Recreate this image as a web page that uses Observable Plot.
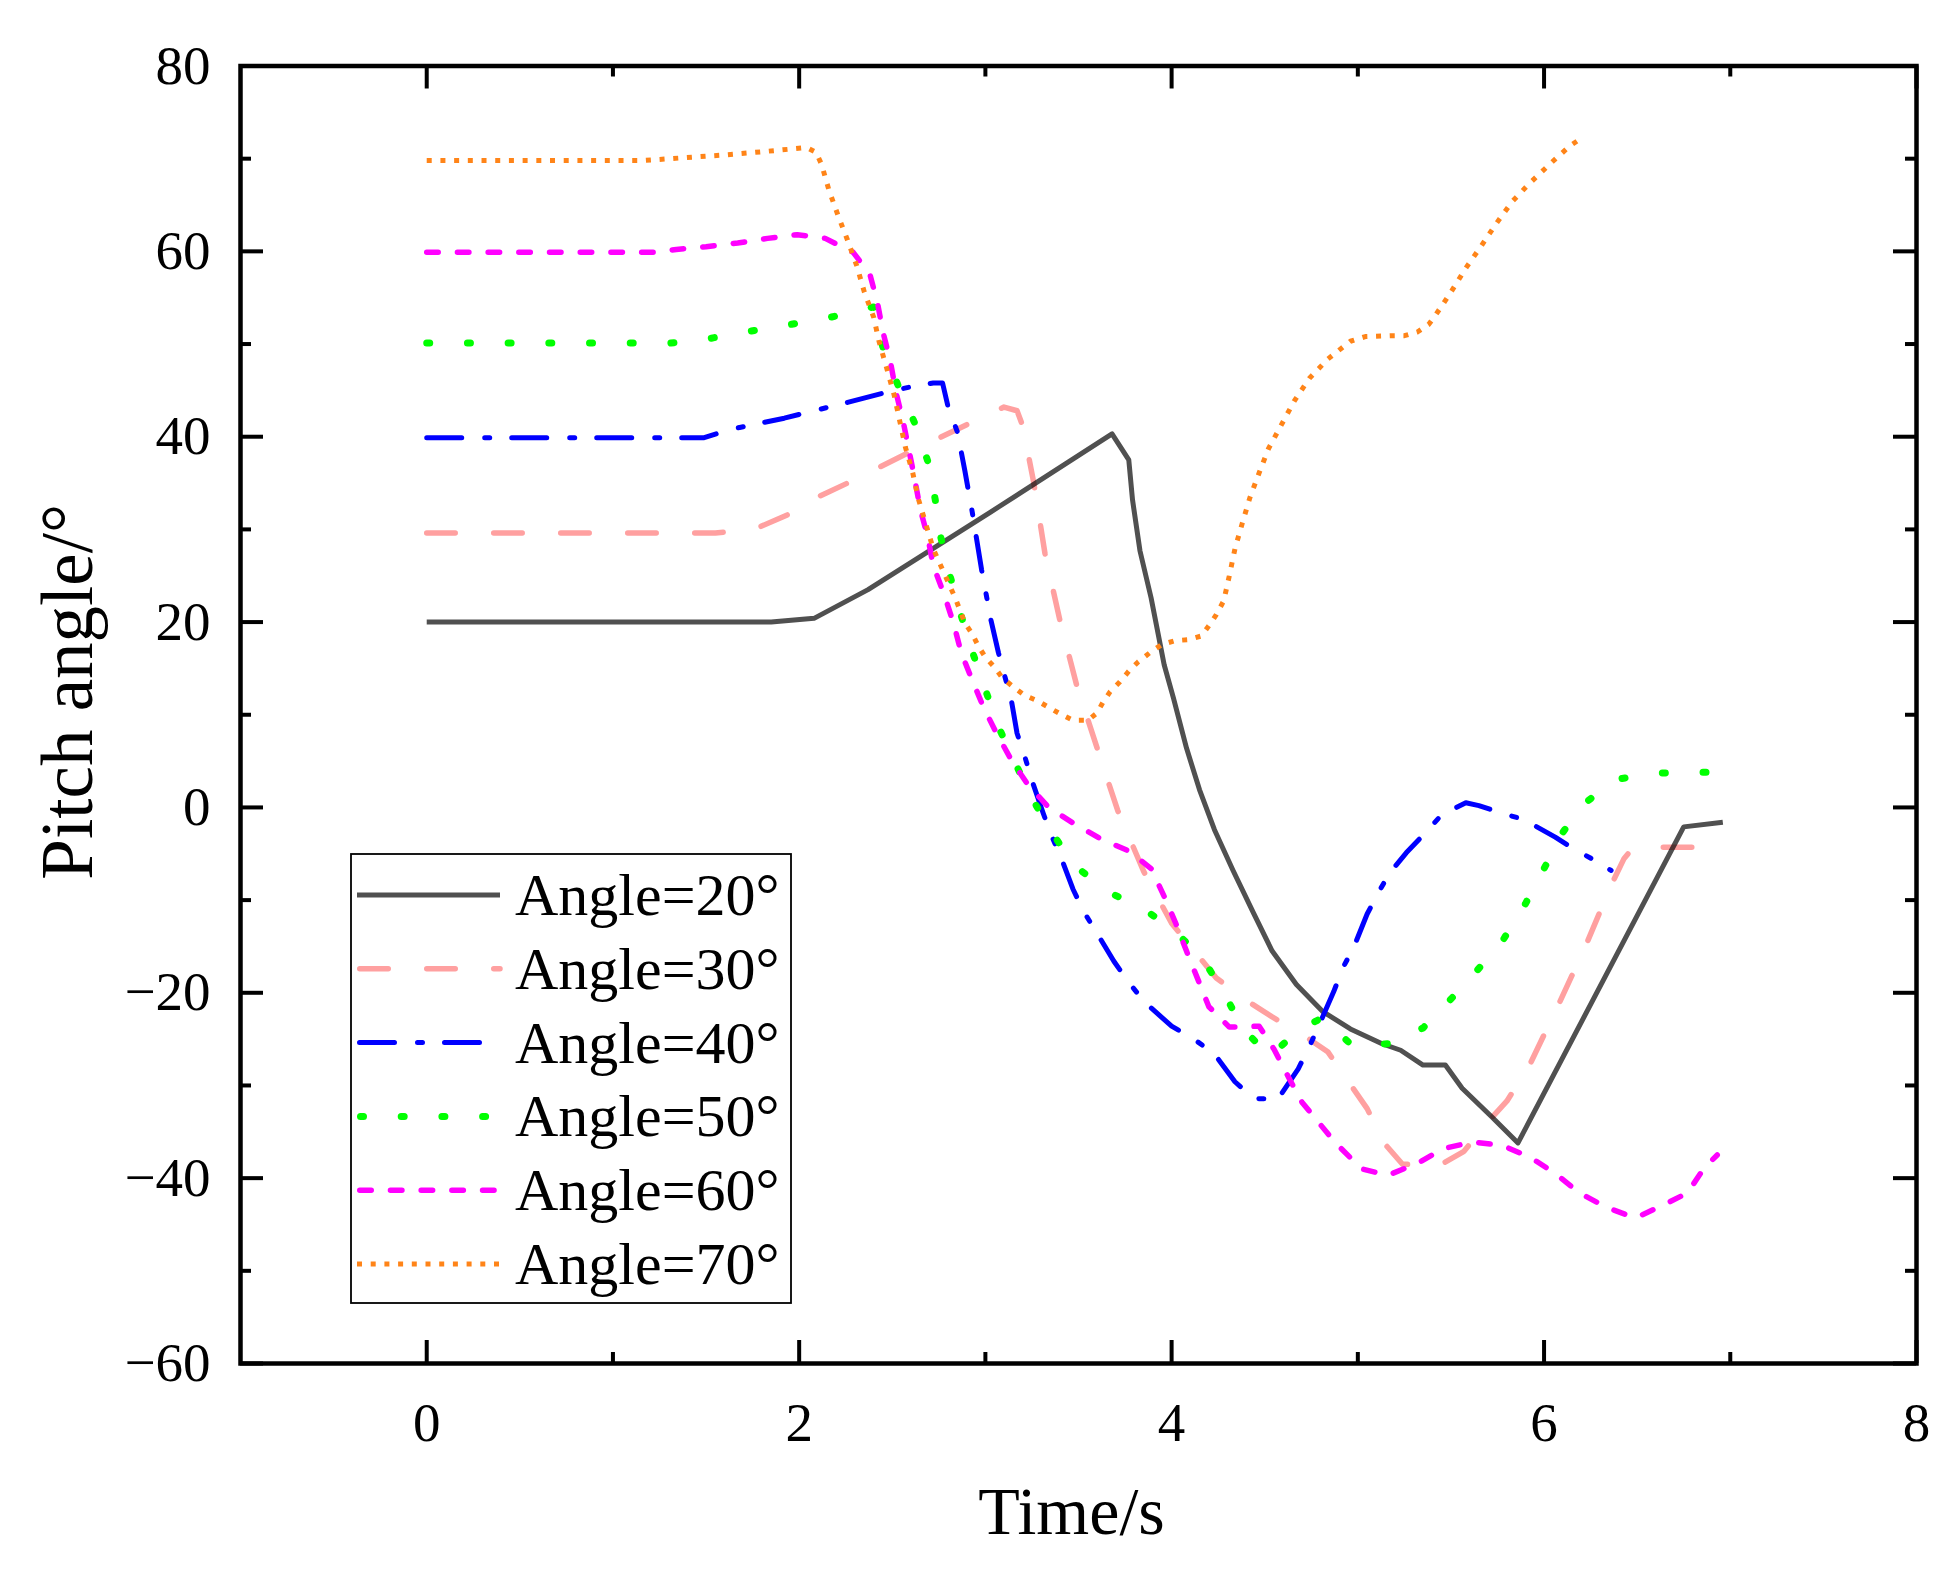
<!DOCTYPE html>
<html>
<head>
<meta charset="utf-8">
<script src="https://cdn.jsdelivr.net/npm/d3@7"></script>
<script src="https://cdn.jsdelivr.net/npm/@observablehq/plot@0.6"></script>
<style>
  html, body { margin: 0; padding: 0; background: #fff; }
  #wrap { position: relative; width: 1945px; height: 1571px; }
  #wrap svg { display: block; }
  #legend { position: absolute; left: 0; top: 0; pointer-events: none; }
</style>
</head>
<body>
<div id="wrap"></div>
<script>
// ---------- data ----------
const seriesNames = ["Angle=20°", "Angle=30°", "Angle=40°", "Angle=50°", "Angle=60°", "Angle=70°"];

const time20  = [0,1.85,2.08,2.37,3.03,3.68,3.77,3.79,3.83,3.89,3.96,4.01,4.08,4.15,4.23,4.33,4.44,4.54,4.67,4.81,4.96,5.13,5.23,5.35,5.47,5.56,5.72,5.86,6.75,6.96];
const pitch20 = [20,20,20.4,23.5,31.9,40.3,37.5,33.2,27.7,22.6,15.4,11.8,6.4,1.9,-2.4,-6.8,-11.4,-15.5,-19.1,-22.0,-23.9,-25.5,-26.2,-27.8,-27.8,-30.3,-33.4,-36.2,-2.1,-1.6];

const time30  = [0,1.55,1.65,1.78,1.94,2.1,2.26,2.58,2.91,3.1,3.17,3.2,3.26,3.32,3.4,3.49,3.6,3.71,3.85,4.0,4.24,4.4,4.54,4.71,4.84,4.95,5.05,5.14,5.24,5.44,5.57,5.7,5.8,5.92,6.07,6.22,6.36,6.43,6.48,6.8];
const pitch30 = [29.6,29.6,29.8,30.2,31.6,33.5,35.0,38.2,41.4,43.2,42.8,41.2,35.0,27.4,20.2,13.2,6.4,-0.3,-6.9,-12.5,-18.4,-20.8,-22.6,-24.6,-26.4,-29.6,-32.5,-36.2,-38.5,-38.6,-37.1,-33.9,-31.7,-27.9,-21.6,-15.1,-8.4,-5.5,-4.3,-4.3];

const time40  = [0,1.49,1.57,1.68,1.92,2.02,2.26,2.45,2.58,2.72,2.77,2.8,2.85,2.89,2.93,2.98,3.03,3.07,3.14,3.17,3.21,3.25,3.31,3.35,3.41,3.47,3.53,3.6,3.69,3.77,3.86,4.0,4.12,4.23,4.34,4.44,4.57,4.68,4.74,4.8,4.87,4.92,4.98,5.05,5.11,5.17,5.26,5.35,5.45,5.58,5.65,5.77,5.89,6.06,6.17,6.28,6.36];
const pitch40 = [39.9,39.9,40.4,41.0,42.0,42.5,43.7,44.7,45.3,45.8,45.8,43.2,40.5,36.3,31.8,25.6,20.2,16.7,11.5,8.0,5.6,2.9,-0.6,-2.8,-5.6,-8.8,-11.3,-13.6,-16.6,-18.9,-21.1,-23.6,-25.0,-26.6,-29.6,-31.4,-31.5,-28.2,-25.8,-23.1,-19.9,-17.3,-15.0,-11.5,-9.2,-7.1,-4.9,-3.0,-0.8,0.5,0.2,-0.6,-1.3,-3.2,-4.6,-5.8,-6.8];

const time50  = [0,1.31,1.52,1.74,1.95,2.17,2.4,2.45,2.53,2.62,2.69,2.73,2.76,2.81,2.87,2.93,3.0,3.07,3.16,3.25,3.36,3.48,3.66,3.86,4.01,4.17,4.29,4.38,4.53,4.69,4.81,4.97,5.16,5.35,5.49,5.64,5.78,5.9,6.0,6.1,6.21,6.38,6.6,6.82,6.9];
const pitch50 = [50.1,50.1,50.6,51.4,52.1,52.9,54.0,49.6,45.6,41.5,37.4,33.3,29.2,25.0,20.7,16.8,12.7,8.7,4.8,1.0,-2.8,-6.3,-9.1,-11.1,-13.2,-16.4,-20.3,-23.9,-26.8,-23.9,-22.7,-25.7,-25.5,-23.8,-20.9,-17.6,-14.3,-10.4,-6.6,-2.7,0.3,3.0,3.7,3.8,3.8];

const time60  = [0,1.22,1.34,1.5,1.67,1.83,1.99,2.14,2.29,2.38,2.42,2.45,2.49,2.52,2.56,2.59,2.62,2.65,2.69,2.72,2.78,2.83,2.87,2.93,2.99,3.06,3.14,3.23,3.34,3.48,3.62,3.77,3.89,3.96,4.02,4.08,4.14,4.2,4.31,4.47,4.55,4.63,4.7,4.88,5.02,5.16,5.32,5.46,5.62,5.78,5.93,6.06,6.19,6.34,6.49,6.64,6.77,6.86,6.93];
const pitch60 = [59.9,59.9,60.2,60.5,60.9,61.4,61.8,61.4,59.9,57.5,54.5,51.3,48.1,44.8,41.5,38.5,35.5,32.2,29.2,26.1,22.9,19.8,16.7,13.7,10.8,8.0,5.1,2.4,0.0,-1.8,-3.4,-4.7,-6.6,-9.6,-12.4,-15.5,-18.5,-21.5,-23.7,-23.6,-26.1,-29.2,-31.8,-36.2,-39.0,-39.7,-38.4,-36.8,-36.1,-36.5,-37.8,-39.5,-41.6,-43.2,-44.3,-42.9,-41.6,-38.9,-37.5];

const time70  = [0,1.16,1.38,1.6,1.83,2.04,2.09,2.12,2.16,2.21,2.26,2.31,2.35,2.4,2.43,2.47,2.51,2.54,2.57,2.61,2.64,2.68,2.72,2.78,2.84,2.89,2.93,2.96,3.0,3.05,3.09,3.15,3.21,3.28,3.34,3.41,3.47,3.55,3.6,3.63,3.67,3.72,3.77,3.82,3.89,3.95,4.02,4.09,4.16,4.2,4.24,4.28,4.31,4.34,4.38,4.42,4.47,4.52,4.59,4.66,4.74,4.84,4.96,5.04,5.18,5.25,5.32,5.38,5.42,5.5,5.58,5.66,5.74,5.83,5.92,6.03,6.14,6.2];
const pitch70 = [69.8,69.8,70.1,70.4,70.8,71.2,70.7,69.4,66.6,63.8,61.2,58.4,55.6,52.9,50.2,47.4,44.5,41.7,38.9,36.1,33.3,30.6,27.9,25.2,22.5,19.9,18.7,17.5,16.2,15.1,14.0,13.0,12.1,11.5,10.8,10.0,9.4,9.4,10.2,11.3,12.5,13.5,14.7,15.7,16.8,17.6,18.0,18.1,18.5,19.6,20.8,22.3,25.0,27.9,30.7,33.4,36.1,38.7,41.3,43.9,46.3,48.4,50.3,50.8,50.9,50.9,51.3,52.1,53.2,55.6,58.2,60.5,62.9,65.4,67.3,69.4,71.4,72.2];

const xMajorTicks = [0, 2, 4, 6, 8];
const xMinorTicks = [1, 3, 5, 7];
const yMajorTicks = [-60, -40, -20, 0, 20, 40, 60, 80];
const yMinorTicks = [-50, -30, -10, 10, 30, 50, 70];

// ---------- styles ----------
const styles = [
  {stroke: "#505050", strokeWidth: 5, dash: null, cap: "butt"},
  {stroke: "#ffa0a0", strokeWidth: 5.5, dash: "28.5,38.5", cap: "round", blend: "multiply"},
  {stroke: "#0000ff", strokeWidth: 5, dash: "35,23,5,22", cap: "round"},
  {stroke: "#00ff00", strokeWidth: 7, dash: "3,37.7", cap: "round"},
  {stroke: "#ff00ff", strokeWidth: 5.5, dash: "11.5,19.2", cap: "round"},
  {stroke: "#ff8418", strokeWidth: 5, dash: "5,8.7", cap: "butt"}
];

const times = [time20, time30, time40, time50, time60, time70];
const pitches = [pitch20, pitch30, pitch40, pitch50, pitch60, pitch70];
const tables = times.map((ts, i) => ts.map((t, j) => ({series: seriesNames[i], t, v: pitches[i][j]})));

// ---------- layout ----------
const W = 1945, H = 1571;
const mL = 240, mR = 29, mT = 65.5, mB = 208;
const xDomain = [-1, 8], yDomain = [-60, 80];
const kx = (W - mL - mR) / (xDomain[1] - xDomain[0]);
const ky = (H - mT - mB) / (yDomain[1] - yDomain[0]);
const majorLen = 23, minorLen = 11;
const serif = "Liberation Serif, Times New Roman, serif";
const intFmt = d3.format("d");

const tickMarks = [];
const tw = 4;
tickMarks.push(Plot.ruleX(xMajorTicks, {x: d => d, y1: yDomain[0], y2: yDomain[0] + majorLen / ky, stroke: "black", strokeWidth: tw}));
tickMarks.push(Plot.ruleX(xMinorTicks, {x: d => d, y1: yDomain[0], y2: yDomain[0] + minorLen / ky, stroke: "black", strokeWidth: tw}));
tickMarks.push(Plot.ruleX(xMajorTicks, {x: d => d, y1: yDomain[1], y2: yDomain[1] - majorLen / ky, stroke: "black", strokeWidth: tw}));
tickMarks.push(Plot.ruleX(xMinorTicks, {x: d => d, y1: yDomain[1], y2: yDomain[1] - minorLen / ky, stroke: "black", strokeWidth: tw}));
tickMarks.push(Plot.ruleY(yMajorTicks, {y: d => d, x1: xDomain[0], x2: xDomain[0] + majorLen / kx, stroke: "black", strokeWidth: tw}));
tickMarks.push(Plot.ruleY(yMinorTicks, {y: d => d, x1: xDomain[0], x2: xDomain[0] + minorLen / kx, stroke: "black", strokeWidth: tw}));
tickMarks.push(Plot.ruleY(yMajorTicks, {y: d => d, x1: xDomain[1], x2: xDomain[1] - majorLen / kx, stroke: "black", strokeWidth: tw}));
tickMarks.push(Plot.ruleY(yMinorTicks, {y: d => d, x1: xDomain[1], x2: xDomain[1] - minorLen / kx, stroke: "black", strokeWidth: tw}));

const lineMarks = tables.map((data, i) => {
  const s = styles[i];
  const opts = {x: "t", y: "v", stroke: s.stroke, strokeWidth: s.strokeWidth, strokeLinecap: s.cap, strokeLinejoin: "round"};
  if (s.dash) opts.strokeDasharray = s.dash;
  if (s.blend) opts.mixBlendMode = s.blend;
  return Plot.line(data, opts);
});

const chart = Plot.plot({
  width: W,
  height: H,
  marginLeft: mL, marginRight: mR, marginTop: mT, marginBottom: mB,
  style: {fontFamily: serif, background: "white"},
  x: {domain: xDomain, axis: null},
  y: {domain: yDomain, axis: null},
  marks: [
    ...lineMarks,
    ...tickMarks,
    Plot.frame({stroke: "black", strokeWidth: 4.5}),
    Plot.axisX(xMajorTicks, {anchor: "bottom", tickSize: 0, tickPadding: 38, tickFormat: intFmt, fontSize: 55, fontFamily: serif, fill: "black", label: null}),
    Plot.axisY(yMajorTicks, {anchor: "left", tickSize: 0, tickPadding: 30, tickFormat: intFmt, fontSize: 55, fontFamily: serif, fill: "black", label: null}),
    Plot.text(["Time/s"], {frameAnchor: "bottom", dx: -7, dy: 1533 - (H - mB), lineAnchor: "bottom", textAnchor: "middle", fontSize: 68, fontFamily: serif, fill: "black"}),
    Plot.text(["Pitch angle/°"], {frameAnchor: "left", rotate: -90, dx: 68.5 - mL, dy: -23, lineAnchor: "middle", textAnchor: "middle", fontSize: 73, fontFamily: serif, fill: "black"})
  ]
});

const wrap = document.getElementById("wrap");
wrap.appendChild(chart);

// ---------- legend (overlay) ----------
const lg = d3.select(wrap).append("svg")
  .attr("id", "legend")
  .attr("width", W).attr("height", H);
const box = {x: 351, y: 854, w: 440, h: 449};
lg.append("rect")
  .attr("x", box.x).attr("y", box.y).attr("width", box.w).attr("height", box.h)
  .attr("fill", "white").attr("stroke", "black").attr("stroke-width", 1.8);
seriesNames.forEach((name, i) => {
  const cy = 895 + i * 73.8;
  const s = styles[i];
  const ln = lg.append("line")
    .attr("x1", 357 + (s.cap === "round" ? s.strokeWidth / 2 : 0)).attr("x2", 500)
    .attr("y1", cy).attr("y2", cy)
    .attr("stroke", s.stroke).attr("stroke-width", s.strokeWidth)
    .attr("stroke-linecap", s.cap);
  if (s.dash) ln.attr("stroke-dasharray", s.dash);
  lg.append("text")
    .attr("x", 515).attr("y", cy + 20)
    .attr("font-family", serif).attr("font-size", 60).attr("fill", "black")
    .text(name);
});
</script>
</body>
</html>
